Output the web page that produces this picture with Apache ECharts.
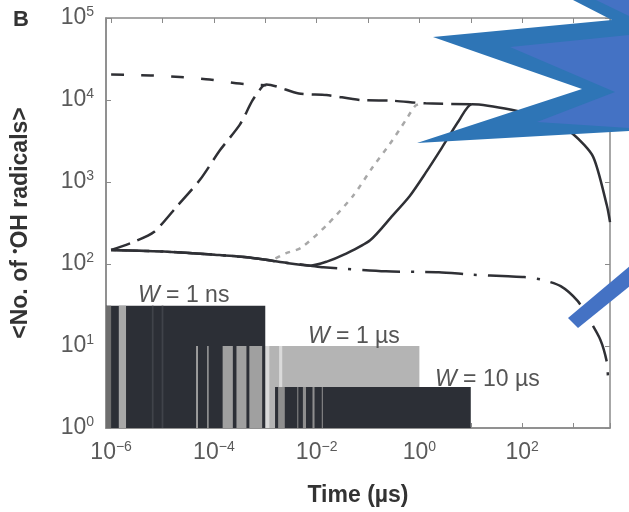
<!DOCTYPE html>
<html><head><meta charset="utf-8">
<script src="https://cdn.jsdelivr.net/npm/echarts@6/dist/echarts.min.js"></script>
<style>html,body{margin:0;padding:0;background:#fff}#c{width:629px;height:512px}</style>
</head><body><div id="c"></div>
<script>
// ---------- data (time in µs, counts of •OH radicals) ----------
const xLabelExps = [-6, -4, -2, 0, 2];
const yLabelExps = [0, 1, 2, 3, 4, 5];

// top short-dashed curve (before the W = 1 ns peak)
const topTime = [1e-6, 5.9e-6, 2.2e-5, 8.3e-5, 3.2e-4, 1.05e-3];
const topVal  = [20400, 19950, 19050, 17800, 15850, 15100];

// W = 1 ns (long dash)
const nsTime = [1e-6, 2.75e-6, 6.8e-6, 1.95e-5, 5.4e-5, 1.32e-4, 3.2e-4, 5.6e-4, 8.7e-4, 1.05e-3, 4.5e-3, 1.55e-2, 7.1e-2, 0.30, 1.32, 10.5];
const nsVal  = [148, 186, 245, 513, 1070, 2450, 5000, 9800, 14500, 15500, 12000, 11500, 10000, 9800, 9100, 8900];

// W = 1 µs (grey dotted)
const usTime = [1e-6, 1.26e-5, 1.15e-4, 4.9e-4, 1.26e-3, 2.5e-3, 5e-3, 1.55e-2, 5.1e-2, 0.126, 0.263, 0.537, 0.83, 1.05];
const usVal  = [148, 141, 129, 120, 112, 135, 158, 295, 676, 1550, 2880, 5620, 8500, 9100];

// W = 10 µs (solid)
const tenTime = [1e-6, 1.26e-5, 1.15e-4, 4.9e-4, 2.14e-3, 7.6e-3, 1.58e-2, 3.3e-2, 0.11, 0.30, 0.65, 1.32, 2.75, 5.9, 10.5, 62, 363, 1000, 2400, 4470, 5130];
const tenVal  = [148, 141, 129, 120, 105, 95.5, 107, 129, 195, 389, 676, 1290, 2630, 5620, 8900, 7590, 5620, 3800, 2040, 513, 324];

// dash-dot curve
const ddTime = [1e-6, 1.26e-5, 1.15e-4, 4.9e-4, 2.14e-3, 7.6e-3, 1.35e-2, 0.224, 2.4, 10.5, 53.7, 110, 234, 562, 1200, 1860, 3310, 4470, 4680];
const ddVal  = [148, 141, 129, 120, 105, 95.5, 91.2, 81.3, 79.4, 74.1, 70.8, 69.2, 64.6, 53.7, 35.5, 22.9, 12.0, 6.3, 4.0];

// pulse-train bars: [start, end, height]
const barNs  = [[7.9e-7, 1.0e-3, 31]];
const barUs  = [[7.9e-7, 1.0, 10]];
const barTen = [[1.55e-3, 10, 3.16]];

// stripes inside the bars: [start, end, height]
const stripeNsMid   = [[7.9e-7, 1.0e-6, 31]];
const stripeNsLight = [[1.41e-6, 1.95e-6, 31]];
const stripeNsFaint = [[6.2e-6, 6.7e-6, 31], [9.6e-6, 1.04e-5, 31]];
const stripeNsLow   = [[4.5e-5, 4.9e-5, 10], [7.4e-5, 7.9e-5, 10], [1.48e-4, 2.34e-4, 10], [2.75e-4, 4.3e-4, 10], [4.9e-4, 8.7e-4, 10]];
const stripeUsLight = [[9.5e-4, 1.2e-3, 10], [1.86e-3, 2.14e-3, 10]];
const stripeTenGrey = [[1.78e-3, 2.4e-3, 3.16], [4.2e-3, 4.35e-3, 3.16], [5.4e-3, 6.2e-3, 3.16], [8.3e-3, 9.1e-3, 3.16], [1.26e-2, 1.32e-2, 3.16]];

// ---------- helpers ----------
const L = Math.log10;
const pts = (ts, vs) => ts.map((t, i) => [L(t), L(vs[i])]);
const rects = arr => arr.map(r => [L(r[0]), L(r[1]), 0, L(r[2])]);
const isInt = v => Math.abs(v - Math.round(v)) < 1e-6;
const expLabel = e => '{b|10}{s|' + (e < 0 ? '\u2212' : '') + Math.abs(e) + '}';

function rectSeries(data, color, z) {
  return {
    type: 'custom', data: rects(data), z: z, clip: true, silent: true,
    encode: { x: [0, 1], y: [2, 3] },
    renderItem: function (params, api) {
      const p0 = api.coord([api.value(0), api.value(3)]);
      const p1 = api.coord([api.value(1), api.value(2)]);
      return { type: 'rect', shape: { x: p0[0], y: p0[1], width: Math.max(1, p1[0] - p0[0]), height: p1[1] - p0[1] }, style: { fill: color } };
    }
  };
}

const lineColor = '#2f3035';
const labelRich = {
  b: { fontSize: 23, fontFamily: 'Liberation Sans', color: '#5a5a5a', lineHeight: 26 },
  s: { fontSize: 14, fontFamily: 'Liberation Sans', color: '#5a5a5a', verticalAlign: 'top', lineHeight: 14 }
};
const wRich = {
  i: { font: 'italic 23px "Liberation Sans"', fill: '#555' },
  n: { font: '23px "Liberation Sans"', fill: '#555' }
};
const titleRich = {
  t: { fontSize: 23, fontWeight: 'bold', color: '#333', fontFamily: 'Liberation Sans', lineHeight: 26 },
  d: { fontSize: 15, fontWeight: 'bold', color: '#333', fontFamily: 'Liberation Sans', verticalAlign: 'top', lineHeight: 15 }
};

const chart = echarts.init(document.getElementById('c'), null, { renderer: 'canvas' });
chart.setOption({
  animation: false,
  backgroundColor: '#fff',
  grid: { left: 100, right: 19, top: 18, bottom: 75, show: true, borderColor: '#8a8a8a', borderWidth: 1.5, containLabel: false },
  xAxis: [{
    type: 'value', min: -6.1, max: 3.71, splitNumber: 10,
    name: 'Time (\u00b5s)', nameLocation: 'middle', nameGap: 56,
    nameTextStyle: { fontSize: 23, fontWeight: 'bold', color: '#333', fontFamily: 'Liberation Sans' },
    axisLine: { onZero: false, lineStyle: { color: '#8a8a8a', width: 1.5 } },
    axisTick: { inside: true, length: 5, lineStyle: { color: '#8a8a8a' } },
    splitLine: { show: false },
    axisLabel: { margin: 12, formatter: v => (isInt(v) && xLabelExps.includes(Math.round(v))) ? expLabel(Math.round(v)) : '', rich: labelRich }
  }, {
    type: 'value', position: 'top', min: -6.1, max: 3.71, splitNumber: 10,
    axisLine: { show: false, onZero: false }, axisTick: { inside: true, length: 5, lineStyle: { color: '#8a8a8a' } },
    axisLabel: { show: false }, splitLine: { show: false }
  }],
  yAxis: [{
    type: 'value', min: 0, max: 5, interval: 1,
    name: '{t|<No. of }{d|\u2022}{t|OH radicals>}', nameLocation: 'middle', nameGap: 72, nameRotate: 90,
    nameTextStyle: { fontSize: 23, fontWeight: 'bold', color: '#333', fontFamily: 'Liberation Sans', rich: titleRich },
    axisLine: { onZero: false, lineStyle: { color: '#8a8a8a', width: 1.5 } },
    axisTick: { inside: true, length: 5, lineStyle: { color: '#8a8a8a' } },
    splitLine: { show: false },
    axisLabel: { margin: 12, formatter: v => (isInt(v) && yLabelExps.includes(Math.round(v))) ? expLabel(Math.round(v)) : '', rich: labelRich }
  }, {
    type: 'value', position: 'right', min: 0, max: 5, interval: 1,
    axisLine: { show: false, onZero: false }, axisTick: { inside: true, length: 5, lineStyle: { color: '#8a8a8a' } },
    axisLabel: { show: false }, splitLine: { show: false }
  }],
  series: [
    rectSeries(barUs, '#b4b4b4', 1),
    rectSeries(stripeUsLight, '#dadada', 2),
    rectSeries(barTen, '#2c2f36', 3),
    rectSeries(stripeTenGrey, '#8e8e8e', 4),
    rectSeries(barNs, '#2c2f36', 5),
    rectSeries(stripeNsMid, '#6e6e6e', 6),
    rectSeries(stripeNsLight, '#a8a8a8', 6),
    rectSeries(stripeNsFaint, '#40434a', 6),
    rectSeries(stripeNsLow, '#a0a0a0', 6),
    { type: 'line', data: pts(usTime, usVal), showSymbol: false, smooth: 0.25, z: 10,
      lineStyle: { color: '#a8a8a8', width: 2.5, type: [5, 6] } },
    { type: 'line', data: pts(topTime, topVal), showSymbol: false, smooth: 0.25, z: 11,
      lineStyle: { color: lineColor, width: 2.5, type: [13, 17] } },
    { type: 'line', data: pts(nsTime, nsVal), showSymbol: false, smooth: 0.25, z: 11,
      lineStyle: { color: lineColor, width: 2.5, type: [20, 8] } },
    { type: 'line', data: pts(ddTime, ddVal), showSymbol: false, smooth: 0.25, z: 11,
      lineStyle: { color: lineColor, width: 2.5, type: [38, 11, 3, 11] } },
    { type: 'line', data: pts(tenTime, tenVal), showSymbol: false, smooth: 0.25, z: 12,
      lineStyle: { color: lineColor, width: 2.5 } }
  ],
  graphic: [
    { type: 'text', left: 13, top: 9, z: 50, style: { text: 'B', font: 'bold 22px "Liberation Sans"', fill: '#333' } },
    { type: 'text', x: 138, y: 296, z: 50, style: { text: '{i|W}{n| = 1 ns}', rich: wRich, font: '23px "Liberation Sans"', fill: '#555', verticalAlign: 'middle' } },
    { type: 'text', x: 308, y: 337, z: 50, style: { text: '{i|W}{n| = 1 \u00b5s}', rich: wRich, font: '23px "Liberation Sans"', fill: '#555', verticalAlign: 'middle' } },
    { type: 'text', x: 435, y: 380, z: 50, style: { text: '{i|W}{n| = 10 \u00b5s}', rich: wRich, font: '23px "Liberation Sans"', fill: '#555', verticalAlign: 'middle' } },
    { type: 'polygon', z: 100, shape: { points: [[573, 0], [612, 20], [433, 37], [582, 89], [417, 143], [629, 131], [629, 0]] }, style: { fill: '#2e75b6' } },
    { type: 'polygon', z: 101, shape: { points: [[510, 47], [629, 35], [629, 128], [537, 122], [615, 92]] }, style: { fill: '#4472c4' } },
    { type: 'polygon', z: 101, shape: { points: [[596, 0], [629, 0], [629, 16]] }, style: { fill: '#4472c4' } },
    { type: 'polygon', z: 100, shape: { points: [[568, 318], [578, 328], [640, 278], [630, 266]] }, style: { fill: '#4472c4' } }
  ]
});
</script>
</body></html>
